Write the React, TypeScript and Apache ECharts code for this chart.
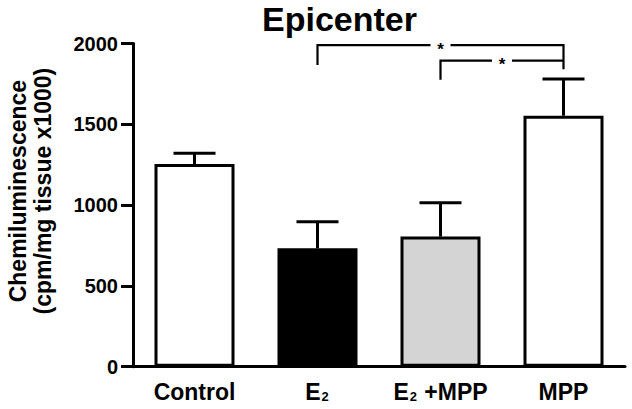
import React, { useEffect, useRef } from "react";
import * as echarts from "echarts";

const categories = ["Control", "E2", "E2 +MPP", "MPP"];
const means = [1254, 733, 805, 1553];
const sems = [67, 164, 210, 227];
const barColors = ["#ffffff", "#000000", "#d4d4d4", "#ffffff"];
const yTicks = { min: 0, max: 2000, interval: 500 };
// [fromIndex, toIndex, yTop, yLeftEnd, yRightEnd]
const brackets = [
  [1, 3, 1990, 1867, 1840],
  [2, 3, 1894, 1776, 1894],
];
const sigLabels = ["*", "*"];

const FONT = "Liberation Sans, Arial, sans-serif";

export default function App() {
  const ref = useRef<HTMLDivElement>(null);
  useEffect(() => {
    const chart = echarts.init(ref.current!, null, { renderer: "svg" });
    const option: any = {
      animation: false,
      backgroundColor: "#ffffff",
      title: {
        text: "Epicenter",
        left: 257,
        top: -3,
        textStyle: { fontFamily: FONT, fontWeight: "bold", fontSize: 34, color: "#000" },
      },
      grid: {
        left: 133,
        right: 7,
        top: 43.5,
        bottom: 42.3,
        containLabel: false,
        outerBoundsMode: "none",
      },
      xAxis: {
        type: "category",
        data: categories,
        axisLine: { lineStyle: { color: "#000", width: 3 } },
        axisTick: { alignWithLabel: true, length: 10, lineStyle: { color: "#000", width: 3 } },
        axisLabel: {
          interval: 0,
          margin: 12,
          color: "#000",
          fontFamily: FONT,
          fontWeight: "bold",
          fontSize: 23,
          formatter: (v: string) => {
            if (v.startsWith("E2")) {
              const rest = v.slice(2);
              return "{b|E}{s|2}" + (rest ? "{b|" + rest + "}" : "");
            }
            return "{b|" + v + "}";
          },
          rich: {
            b: { fontFamily: FONT, fontWeight: "bold", fontSize: 23, color: "#000", lineHeight: 26 },
            s: {
              fontFamily: FONT,
              fontWeight: "bold",
              fontSize: 13,
              color: "#000",
              lineHeight: 26,
              padding: [10, 1, 0, 1],
            },
          },
        },
      },
      yAxis: {
        type: "value",
        min: yTicks.min,
        max: yTicks.max,
        interval: yTicks.interval,
        name: "Chemiluminescence\n(cpm/mg tissue x1000)",
        nameLocation: "middle",
        nameGap: 78,
        nameTextStyle: {
          fontFamily: FONT,
          fontWeight: "bold",
          fontSize: 23,
          color: "#000",
          lineHeight: 25,
          padding: [0, 0, 0, 28],
        },
        splitLine: { show: false },
        axisLine: { show: true, lineStyle: { color: "#000", width: 3 } },
        axisTick: { show: true, inside: false, length: 12, lineStyle: { color: "#000", width: 3 } },
        axisLabel: {
          margin: 15,
          color: "#000",
          fontFamily: FONT,
          fontWeight: "bold",
          fontSize: 20,
          formatter: (v: number) => String(v),
        },
      },
      series: [
        {
          type: "bar",
          barWidth: 80,
          data: means.map((v, i) => ({
            value: v,
            itemStyle: { color: barColors[i], borderColor: "#000", borderWidth: 3 },
          })),
          z: 2,
        },
        {
          type: "custom",
          z: 3,
          data: means.map((m, i) => [i, m, m + sems[i]]),
          encode: { x: 0, y: [1, 2] },
          renderItem: (params: any, api: any) => {
            const base = api.coord([api.value(0), api.value(1)]);
            const top = api.coord([api.value(0), api.value(2)]);
            const hw = 21;
            const style = { stroke: "#000", lineWidth: 3 };
            return {
              type: "group",
              children: [
                { type: "line", shape: { x1: base[0], y1: base[1], x2: top[0], y2: top[1] }, style },
                { type: "line", shape: { x1: top[0] - hw, y1: top[1], x2: top[0] + hw, y2: top[1] }, style },
              ],
            };
          },
        },
        {
          type: "custom",
          z: 4,
          data: brackets,
          dimensions: ["x1", "x2", "yTop", "yL", "yR"],
          encode: { x: [0, 1], y: [2, 3, 4] },
          renderItem: (params: any, api: any) => {
            const x1 = api.value(0);
            const x2 = api.value(1);
            const pTopL = api.coord([x1, api.value(2)]);
            const pTopR = api.coord([x2, api.value(2)]);
            const pL = api.coord([x1, api.value(3)]);
            const pR = api.coord([x2, api.value(4)]);
            const mid = (pTopL[0] + pTopR[0]) / 2;
            const gap = 10;
            const y = pTopL[1];
            const style = { stroke: "#000", lineWidth: 2.2 };
            return {
              type: "group",
              children: [
                { type: "polyline", shape: { points: [[pL[0], pL[1]], [pTopL[0], y], [mid - gap, y]] }, style: { ...style, fill: null } },
                { type: "polyline", shape: { points: [[mid + gap, y], [pTopR[0], y], [pR[0], pR[1]]] }, style: { ...style, fill: null } },
                {
                  type: "text",
                  x: mid,
                  y: y + 4,
                  style: {
                    text: sigLabels[params.dataIndex],
                    fontFamily: FONT,
                    fontWeight: "bold",
                    fontSize: 17,
                    fill: "#000",
                    align: "center",
                    verticalAlign: "middle",
                  },
                },
              ],
            };
          },
        },
      ],
    };
    chart.setOption(option);
    return () => chart.dispose();
  }, []);
  return <div ref={ref} style={{ width: 632, height: 409, position: "absolute", left: 0, top: 0 }} />;
}
